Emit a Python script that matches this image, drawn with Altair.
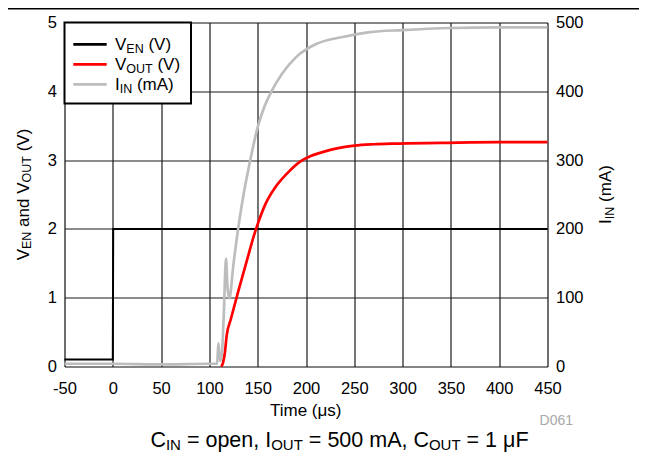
import altair as alt
import pandas as pd

# ---------------- data ----------------
time_ven = [-50, 0, 0.4, 450]
ven = [0.1, 0.1, 2.0, 2.0]

time_vout = [112, 114, 116, 118, 122, 130, 140, 146, 150, 158, 168, 180, 195,
             205, 218, 232, 250, 270, 290, 340, 400, 450]
vout = [0.0, 0.05, 0.2, 0.46, 0.68, 1.1, 1.6, 1.9, 2.07, 2.36, 2.6, 2.8, 2.99,
        3.06, 3.12, 3.17, 3.21, 3.23, 3.24, 3.25, 3.26, 3.26]

time_iin = [-50, 0, 50, 100, 108, 109.3, 111, 113, 115, 117.2, 118.6, 120.6, 125,
            131, 136, 142, 150, 157, 164, 175, 190, 211, 238, 266, 300, 350, 400, 450]
iin = [4, 4, 3, 4, 4, 34, 8, 20, 80, 157, 118, 99, 150,
       212, 255, 298, 348, 378, 399, 425, 450, 469, 479, 486, 489, 492, 493, 493]

x_ticks = list(range(-50, 451, 50))
v_ticks = [0, 1, 2, 3, 4, 5]
i_ticks = [0, 100, 200, 300, 400, 500]

legend_rows = [
    [("V", False), ("EN", True), (" (V)", False)],
    [("V", False), ("OUT", True), (" (V)", False)],
    [("I", False), ("IN", True), (" (mA)", False)],
]
legend_colors = ["#000000", "#ff0000", "#bdbdbd"]

# ---------------- styling ----------------
FONT = "Liberation Sans"
W = {" ": .278, "(": .333, ")": .333, "=": .584, ",": .278, ".": .278,
     "A": .667, "C": .722, "D": .722, "E": .667, "F": .611, "I": .278, "N": .722,
     "O": .778, "T": .611, "U": .722, "V": .667, "a": .556, "d": .556, "e": .556,
     "i": .222, "m": .833, "n": .556, "o": .556, "p": .556, "s": .5, "μ": .576}


def tw(s, size):
    return sum(W.get(c, .556) for c in s) * size


one = pd.DataFrame({"k": [0]})


def rich(pieces, x, y, size, sub_size, sub_shift, angle=0, anchor="start", color="black"):
    total = sum(tw(t, sub_size if s else size) for t, s in pieces)
    start = -total / 2 if anchor == "center" else 0
    out = []
    pos = start
    for text, sub in pieces:
        fs = sub_size if sub else size
        shift = sub_shift if sub else 0
        lead = len(text) - len(text.lstrip(" "))
        p = pos + lead * W[" "] * fs
        body = text.strip(" ")
        if angle == 0:
            px, py = x + p, y + shift
        else:  # 270: reads bottom to top
            px, py = x + shift, y - p
        kw = dict(align="left", baseline="alphabetic", fontSize=fs, font=FONT, color=color)
        if angle:
            kw["angle"] = angle
        out.append(alt.Chart(one).mark_text(**kw).encode(
            x=alt.value(px), y=alt.value(py), text=alt.value(body)))
        pos += tw(text, fs)
    return out


WIDTH, HEIGHT = 483, 344
PAD_L, PAD_T = 56.5, 14.5
TOTAL_W, TOTAL_H = 631, 444

axis_common = dict(title=None, ticks=False, domain=False, labelFont=FONT, labelFontSize=16.5,
                   labelColor="black", labelExpr="'' + datum.value")
grid_style = dict(gridColor="#1a1a1a", gridOpacity=1, gridWidth=1.2)

x_enc = alt.X("t:Q", scale=alt.Scale(domain=[-50, 450], nice=False, zero=False),
              axis=alt.Axis(values=x_ticks, grid=True, labelPadding=14, labelFlush=False,
                            labelOverlap=False, **axis_common, **grid_style))

df_ven = pd.DataFrame({"t": time_ven, "v": ven})
df_vout = pd.DataFrame({"t": time_vout, "v": vout})
df_iin = pd.DataFrame({"t": time_iin, "i": iin})

y_left = alt.Y("v:Q", scale=alt.Scale(domain=[0, 5], nice=False),
               axis=alt.Axis(orient="left", values=v_ticks, grid=True, labelPadding=8,
                             labelFlush=False, **axis_common, **grid_style))

ven_line = alt.Chart(df_ven).mark_line(color="#000000", strokeWidth=2).encode(
    x=x_enc, y=y_left)
vout_line = alt.Chart(df_vout).mark_line(color="#ff0000", strokeWidth=2.7,
                                         interpolate="monotone").encode(x=x_enc, y=y_left)
iin_line = alt.Chart(df_iin).mark_line(color="#bdbdbd", strokeWidth=2.7,
                                       interpolate="monotone").encode(
    x=x_enc,
    y=alt.Y("i:Q", scale=alt.Scale(domain=[0, 500], nice=False),
            axis=alt.Axis(orient="right", values=i_ticks, grid=False, labelPadding=8,
                          labelFlush=False, **axis_common)))

data_layers = alt.layer(alt.layer(ven_line, vout_line), iin_line).resolve_scale(y="independent")

decor = []
# top page rule
decor.append(alt.Chart(one).mark_rule(color="black", strokeWidth=1.5).encode(
    x=alt.value(-60), x2=alt.value(640), y=alt.value(-13.8)))
# legend box
decor.append(alt.Chart(one).mark_rect(fill="white", stroke="black", strokeWidth=2).encode(
    x=alt.value(0), x2=alt.value(126.5), y=alt.value(0), y2=alt.value(81)))
row_y = [21.8, 41.8, 61.8]
for ry, pieces, col in zip(row_y, legend_rows, legend_colors):
    decor.append(alt.Chart(one).mark_rule(color=col, strokeWidth=2.7).encode(
        x=alt.value(8.8), x2=alt.value(42.2), y=alt.value(ry)))
    decor += rich(pieces, 50.5, ry + 6, 17, 12.5, 2.5)

# left axis title
decor += rich([("V", False), ("EN", True), (" and ", False), ("V", False), ("OUT", True),
               (" (V)", False)], -35.8, HEIGHT / 2, 17, 12.5, 2.5, angle=270, anchor="center")
# right axis title
decor += rich([("I", False), ("IN", True), (" (mA)", False)], 546.5, HEIGHT / 2, 17, 12.5,
              2.5, angle=270, anchor="center")
# x axis title
decor += rich([("Time (μs)", False)], WIDTH / 2, 393.5, 17, 12.5, 2.5, anchor="center")
# D061
decor.append(alt.Chart(one).mark_text(align="right", baseline="alphabetic", fontSize=14,
                                      font=FONT, color="#a8a8a8").encode(
    x=alt.value(508.5), y=alt.value(402.5), text=alt.value("D061")))
# caption
decor += rich([("C", False), ("IN", True), (" = open, I", False), ("OUT", True),
               (" = 500 mA, C", False), ("OUT", True), (" = 1 μF", False)],
              275, 424.5, 21.5, 15, 2.5, anchor="center")

chart = alt.layer(data_layers, *decor).properties(
    width=WIDTH, height=HEIGHT,
    autosize=alt.AutoSizeParams(type="none"),
    padding={"left": PAD_L, "top": PAD_T, "right": TOTAL_W - PAD_L - WIDTH,
             "bottom": TOTAL_H - PAD_T - HEIGHT},
).configure_view(stroke="black", strokeWidth=2.5).configure(background="white")

chart.save("out.html", embed_options={"renderer": "svg", "actions": False})
